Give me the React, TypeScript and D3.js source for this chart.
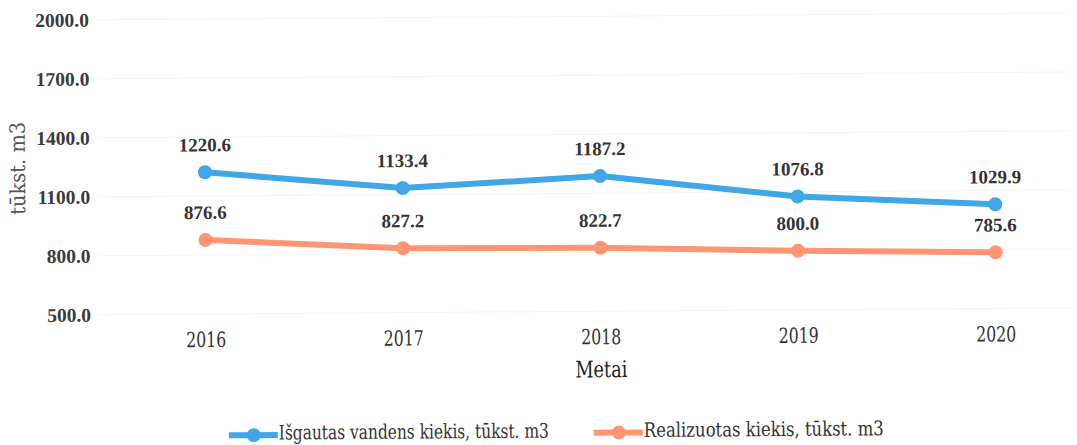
import React from "react";
import * as d3 from "d3";

const years = ["2016", "2017", "2018", "2019", "2020"];
const extracted = [1220.6, 1133.4, 1187.2, 1076.8, 1029.9];
const sold = [876.6, 827.2, 822.7, 800.0, 785.6];
const yTicks = [500, 800, 1100, 1400, 1700, 2000];
const seriesNames = ["Išgautas vandens kiekis, tūkst. m3", "Realizuotas kiekis, tūkst. m3"];
const colors = ["#3fa7e6", "#ff9572"];

const boldFont = "'Liberation Serif', 'DejaVu Serif', serif";
const regFont = "'DejaVu Serif', 'Liberation Serif', serif";

export default function App() {
  const W = 1077, H = 445;
  const x = d3.scalePoint<string>().domain(years).range([206, 996]);
  const y = d3.scaleLinear().domain([500, 2000]).range([314, 19]);
  const line = d3.line<number>().x((_, i) => x(years[i])!).y((d) => y(d));
  const series = [extracted, sold];
  const legendX = [228, 593];
  const legendLen = [270, 240];
  return (
    <svg width={W} height={H} style={{ position: "absolute", left: 0, top: 0, background: "#fff" }}>
      <g transform="rotate(-0.4, 205, 318)">
        {yTicks.map((t) => (
          <g key={t}>
            <line x1={100} x2={1070} y1={y(t)} y2={y(t)} stroke="#f5f5f5" strokeWidth={1} />
            <text x={91} y={y(t)} dy="0.35em" textAnchor="end" fontSize={19.5} fill="#3a3a3a" fontFamily={boldFont} fontWeight="bold">
              {t.toFixed(1)}
            </text>
          </g>
        ))}
        {years.map((yr) => (
          <text key={yr} x={x(yr)} y={347} textAnchor="middle" fontSize={21} fill="#333" fontFamily={regFont} fontStretch="condensed" textLength={40} lengthAdjust="spacingAndGlyphs">
            {yr}
          </text>
        ))}
        <text x={601} y={380} textAnchor="middle" fontSize={23} fill="#222" fontFamily={regFont} fontStretch="condensed" textLength={52} lengthAdjust="spacingAndGlyphs">Metai</text>
        <text transform="translate(26,167) rotate(-90)" textAnchor="middle" fontSize={21} fill="#555" fontFamily={regFont} fontStretch="condensed" textLength={93} lengthAdjust="spacingAndGlyphs">tūkst. m3</text>
        {series.map((s, si) => (
          <g key={si}>
            <path d={line(s)!} fill="none" stroke={colors[si]} strokeWidth={6} strokeLinejoin="round" />
            {s.map((v, i) => (
              <g key={i}>
                <circle cx={x(years[i])} cy={y(v)} r={7} fill={colors[si]} />
                <text x={x(years[i])} y={y(v) - 21} textAnchor="middle" fontSize={19} fontWeight="bold" fill="#333" fontFamily={boldFont}>
                  {v.toFixed(1)}
                </text>
              </g>
            ))}
          </g>
        ))}
        {seriesNames.map((n, i) => (
          <g key={n}>
            <line x1={legendX[i]} x2={legendX[i] + 49} y1={435.5} y2={435.5} stroke={colors[i]} strokeWidth={6} />
            <circle cx={legendX[i] + 25} cy={435.5} r={7} fill={colors[i]} />
            <text x={legendX[i] + 50} y={440} fontSize={20} fill="#333" fontFamily={regFont} fontStretch="condensed" textLength={legendLen[i]} lengthAdjust="spacingAndGlyphs">{n}</text>
          </g>
        ))}
      </g>
    </svg>
  );
}
